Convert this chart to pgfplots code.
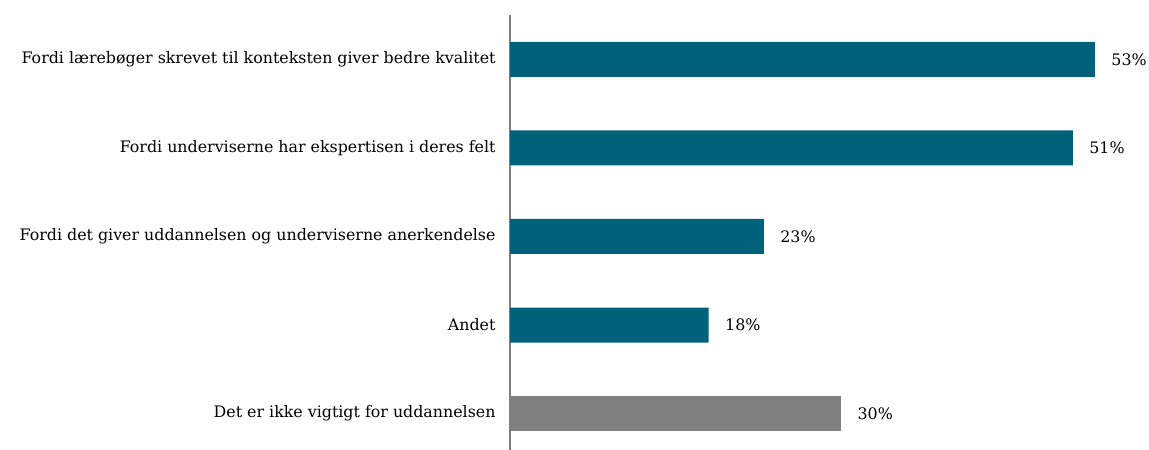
\documentclass[border=0pt]{standalone}
\usepackage{fontspec}
\setmainfont{DejaVu Serif}
\usepackage{pgfplots}
\pgfplotsset{compat=1.18}
\definecolor{barteal}{HTML}{00617A}
\definecolor{bargray}{HTML}{808080}
\begin{document}
\begin{tikzpicture}[x=1bp,y=1bp]
\path[use as bounding box] (0,0) rectangle (1149,450);
\begin{axis}[at={(510bp,0bp)}, anchor=south west, scale only axis,
  width=639bp, height=435bp,
  xbar, bar width=35bp, bar shift=0pt,
  xmin=0, xmax=57.9, ymin=-0.41, ymax=4.5, enlargelimits=false,
  axis lines*=left, x axis line style={draw=none}, xtick=\empty,
  y axis line style={draw=bargray, line width=1.2bp, -},
  ytick={0,1,2,3,4}, major tick length=0pt,
  yticklabels={Det er ikke vigtigt for uddannelsen, Andet, Fordi det giver uddannelsen og underviserne anerkendelse, Fordi underviserne har ekspertisen i deres felt, Fordi lærebøger skrevet til konteksten giver bedre kvalitet},
  yticklabel style={font=\fontsize{15.9}{18}\selectfont, xshift=-11bp},
  nodes near coords={\pgfmathprintnumber[assume math mode=true]{\pgfplotspointmeta}\%},
  nodes near coords style={anchor=west, xshift=13bp, font=\fontsize{15.9}{18}\selectfont, text=black},
  clip=false]
\addplot[fill=barteal, draw=none] coordinates {(18,1) (23,2) (51,3) (53,4)};
\addplot[fill=bargray, draw=none] coordinates {(30,0)};
\end{axis}
\end{tikzpicture}
\end{document}
